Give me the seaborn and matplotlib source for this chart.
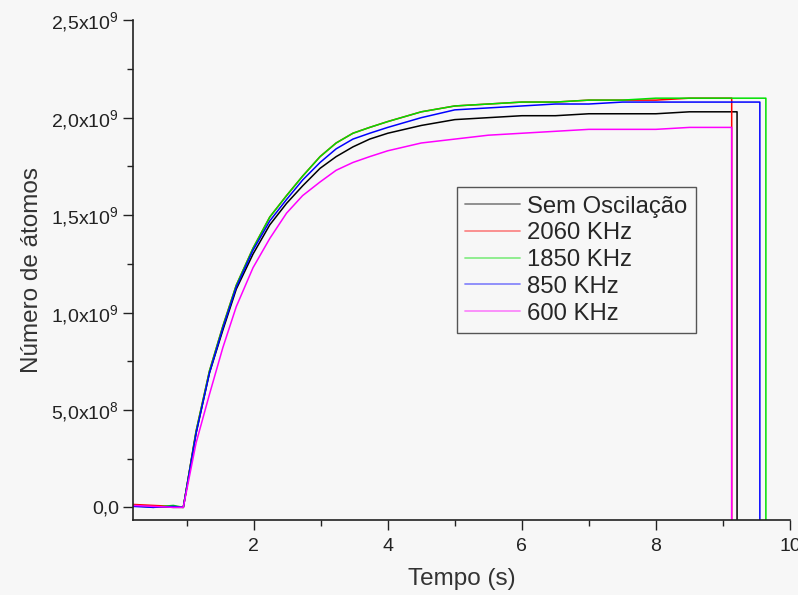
import numpy as np
import pandas as pd
import matplotlib
matplotlib.use("Agg")
import matplotlib.pyplot as plt
import seaborn as sns
from matplotlib.ticker import MultipleLocator, FixedLocator
from matplotlib.lines import Line2D

# ---- data ----
series_names = ["Sem Oscilação", "2060 KHz", "1850 KHz", "850 KHz", "600 KHz"]
colors = ["#000000", "#ff0000", "#00e000", "#0000ff", "#ff00ff"]

time_s = [0.2, 0.5, 0.8, 0.95, 1.14, 1.34, 1.54, 1.74, 1.99, 2.24, 2.49, 2.73,
          2.99, 3.23, 3.48, 3.73, 4.0, 4.5, 5.0, 5.5, 6.0, 6.5, 7.0, 7.5,
          8.0, 8.5, 9.0]

black_vals = [0.01, 0.005, 0.0, 0.0, 0.38, 0.69, 0.91, 1.12, 1.30, 1.45, 1.56, 1.65,
              1.74, 1.80, 1.85, 1.89, 1.92, 1.96, 1.99, 2.00, 2.01, 2.01, 2.02, 2.02,
              2.02, 2.03, 2.03]
red_vals = [0.015, 0.01, 0.005, 0.0, 0.39, 0.70, 0.93, 1.14, 1.33, 1.49, 1.60, 1.70,
            1.80, 1.87, 1.92, 1.95, 1.98, 2.03, 2.06, 2.07, 2.08, 2.08, 2.09, 2.09,
            2.09, 2.10, 2.10]
green_vals = [0.01, 0.0, 0.01, 0.0, 0.39, 0.70, 0.93, 1.14, 1.33, 1.49, 1.60, 1.70,
              1.80, 1.87, 1.92, 1.95, 1.98, 2.03, 2.06, 2.07, 2.08, 2.08, 2.09, 2.09,
              2.10, 2.10, 2.10]
blue_vals = [0.005, 0.0, 0.005, 0.0, 0.38, 0.69, 0.92, 1.13, 1.32, 1.47, 1.58, 1.68,
             1.77, 1.84, 1.89, 1.92, 1.95, 2.00, 2.04, 2.05, 2.06, 2.07, 2.07, 2.08,
             2.08, 2.08, 2.08]
magenta_vals = [0.01, 0.005, 0.0, 0.0, 0.33, 0.58, 0.82, 1.03, 1.23, 1.38, 1.51, 1.60,
                1.67, 1.73, 1.77, 1.80, 1.83, 1.87, 1.89, 1.91, 1.92, 1.93, 1.94, 1.94,
                1.94, 1.95, 1.95]

# time at which each trace ends (drops to baseline) and its last level
end_times = [9.21, 9.13, 9.64, 9.55, 9.13]
end_levels = [2.03, 2.10, 2.10, 2.08, 1.95]
drop_level = -0.1  # below the axis, clipped

y_ticks = [0.0, 0.5, 1.0, 1.5, 2.0, 2.5]
y_tick_labels = ["0,0", r"5,0x10$^{8}$", r"1,0x10$^{9}$", r"1,5x10$^{9}$",
                 r"2,0x10$^{9}$", r"2,5x10$^{9}$"]
x_ticks = [2, 4, 6, 8, 10]

all_vals = [black_vals, red_vals, green_vals, blue_vals, magenta_vals]

rows = []
for name, vals, te, le in zip(series_names, all_vals, end_times, end_levels):
    order = 0
    for t, v in zip(time_s, vals):
        rows.append((name, order, t, v * 1e9)); order += 1
    rows.append((name, order, te, le * 1e9)); order += 1
    rows.append((name, order, te, drop_level * 1e9)); order += 1
df = pd.DataFrame(rows, columns=["serie", "ordem", "tempo", "atomos"])

# ---- plot ----
sns.set_style("ticks")
plt.rcParams["font.family"] = ["Liberation Sans", "DejaVu Sans"]
plt.rcParams["mathtext.fontset"] = "custom"
plt.rcParams["mathtext.rm"] = "Liberation Sans"

fig = plt.figure(figsize=(7.98, 5.95), dpi=100, facecolor="#f7f7f7")
ax = fig.add_axes([0.1667, 0.126, 0.8233, 0.84])
ax.set_facecolor("#f7f7f7")

sns.lineplot(data=df, x="tempo", y="atomos", hue="serie", hue_order=series_names,
             palette=colors, units="serie", estimator=None, sort=False,
             linewidth=1.1, legend=False, ax=ax)

ax.set_xlim(0.2, 10)
ax.set_ylim(-0.065e9, 2.5e9)

ax.xaxis.set_major_locator(FixedLocator(x_ticks))
ax.xaxis.set_minor_locator(MultipleLocator(1))
ax.set_yticks([v * 1e9 for v in y_ticks])
ax.set_yticklabels(y_tick_labels)
ax.yaxis.set_minor_locator(MultipleLocator(0.25e9))

ax.tick_params(axis="both", which="major", direction="out", length=7, width=1,
               labelsize=14, colors="#222222", pad=3)
ax.tick_params(axis="x", which="major", pad=6)
ax.tick_params(axis="both", which="minor", direction="out", length=4, width=1,
               colors="#222222")
for s in ["top", "right"]:
    ax.spines[s].set_visible(False)
for s in ["left", "bottom"]:
    ax.spines[s].set_linewidth(1.2)
    ax.spines[s].set_color("#222222")

ax.set_xlabel("Tempo (s)", fontsize=17.5, color="#333333", labelpad=9)
ax.set_ylabel("Número de átomos", fontsize=17.5, color="#333333", labelpad=6)

handles = [Line2D([], [], color=c, lw=1.3, alpha=0.45) for c in colors]
leg = ax.legend(handles, series_names, loc="upper left",
                bbox_to_anchor=(0.493, 0.666), fontsize=17.2, frameon=True,
                fancybox=False, edgecolor="#555555", facecolor="#f7f7f7",
                framealpha=1, handlelength=2.3, handletextpad=0.3,
                labelspacing=0.2, borderpad=0.35, borderaxespad=0)
leg.get_frame().set_linewidth(1.0)

fig.savefig("out.png", dpi=100, facecolor=fig.get_facecolor())
